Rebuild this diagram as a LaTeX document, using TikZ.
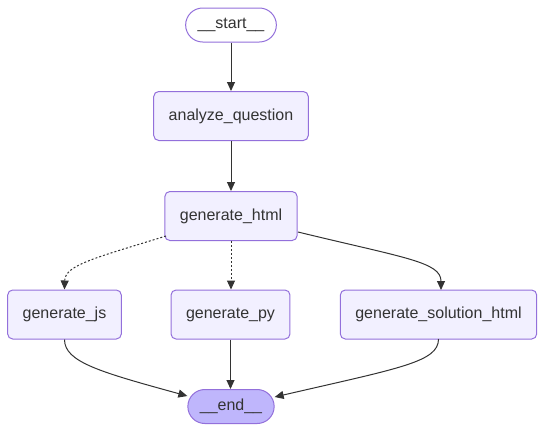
\documentclass[tikz,border=0pt]{standalone}
\usepackage{fontspec}
\setmainfont{Liberation Sans}
\usetikzlibrary{arrows.meta}
\definecolor{nodefill}{HTML}{F2F0FF}
\definecolor{nodeborder}{HTML}{9370DB}
\definecolor{endfill}{HTML}{BFB6FC}
\definecolor{ink}{HTML}{333333}
\begin{document}
\begin{tikzpicture}[x=1pt,y=-1pt,
  box/.style={draw=nodeborder, fill=nodefill, line width=1pt, rounded corners=5pt,
    minimum height=49pt, inner xsep=15pt, text=ink, font=\fontsize{16}{19}\selectfont},
  pill/.style={draw=nodeborder, line width=1pt, rounded corners=17pt,
    minimum height=34pt, inner xsep=12pt, text=ink, font=\fontsize{16}{19}\selectfont},
  edge/.style={draw=ink, line width=1pt, -{Triangle[length=9pt,width=8pt]}},
  dotedge/.style={edge, dash pattern=on 2pt off 2pt}]
\useasboundingbox (0,0) rectangle (545,432);
\node[pill, fill=white] (start) at (231,25) {\_\_start\_\_};
\node[box] (aq) at (231,116) {analyze\_question};
\node[box] (gh) at (231,216) {generate\_html};
\node[box] (gj) at (64.5,314.5) {generate\_js};
\node[box] (gp) at (230.5,314.5) {generate\_py};
\node[box] (gs) at (438.5,314.5) {generate\_solution\_html};
\node[pill, fill=endfill] (end) at (231,406.5) {\_\_end\_\_};
\coordinate (ghl) at (166,236);
\coordinate (ghr) at (298,232);
\draw[edge] (start) -- (aq);
\draw[edge] (aq) -- (gh);
\draw[dotedge] (ghl) .. controls (95,258) and (65,265) .. (gj.north);
\draw[dotedge] (gh) -- (gh.south |- gp.north);
\draw[edge] (ghr) .. controls (405,258) and (441,262) .. (441,290);
\draw[edge] (gj.south) .. controls (64.5,362) and (100,372) .. (end.west |- 0,396);
\draw[edge] (gp) -- (gp.south |- end.north);
\draw[edge] (438.5,339) .. controls (438.5,362) and (400,368) .. (end.east |- 0,397);
\end{tikzpicture}
\end{document}
